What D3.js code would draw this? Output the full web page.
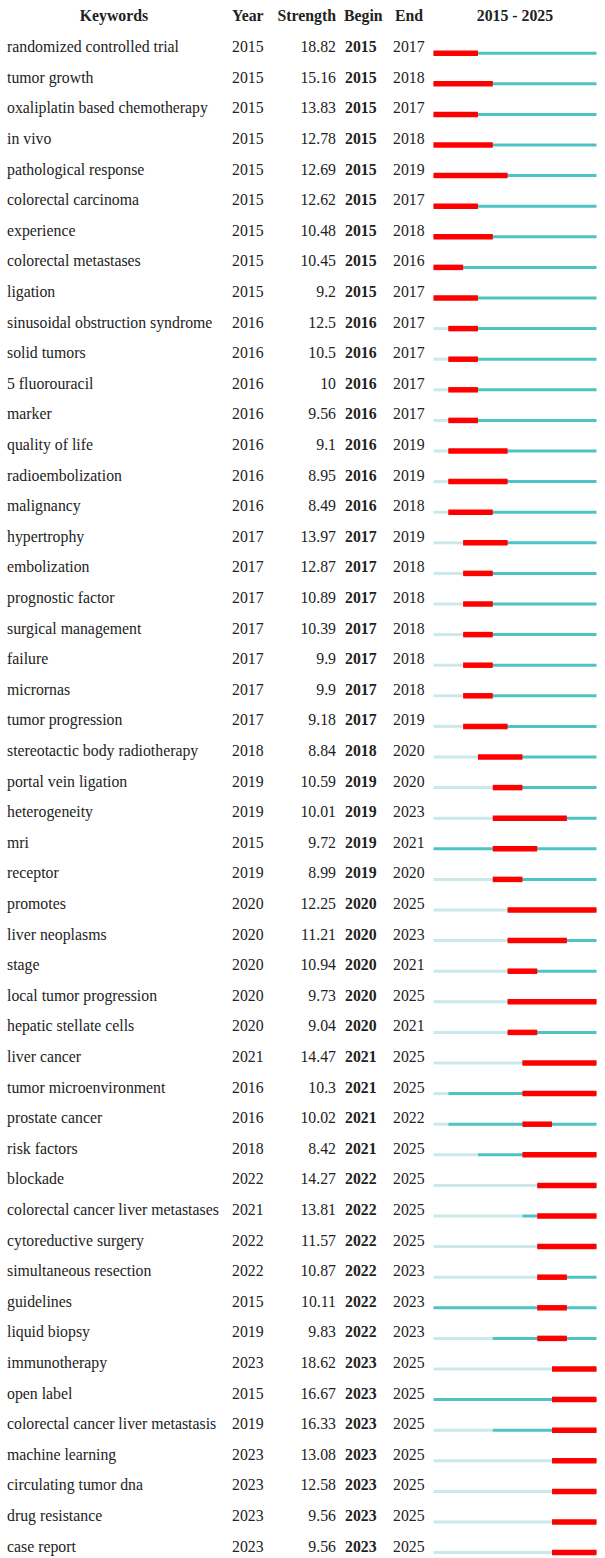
<!DOCTYPE html>
<html>
<head>
<meta charset="utf-8">
<script src="https://cdn.jsdelivr.net/npm/d3@7"></script>
<style>
  body { margin: 0; background: #fff; }
  svg text { font-family: "Times New Roman", "Liberation Serif", serif; fill: #222; }
</style>
</head>
<body>
<div id="chart"></div>
<script>
// ---- data -----------------------------------------------------------------
const keywords = [
  'randomized controlled trial', 'tumor growth', 'oxaliplatin based chemotherapy', 'in vivo',
  'pathological response', 'colorectal carcinoma', 'experience', 'colorectal metastases', 'ligation',
  'sinusoidal obstruction syndrome', 'solid tumors', '5 fluorouracil', 'marker', 'quality of life',
  'radioembolization', 'malignancy', 'hypertrophy', 'embolization', 'prognostic factor',
  'surgical management', 'failure', 'micrornas', 'tumor progression', 'stereotactic body radiotherapy',
  'portal vein ligation', 'heterogeneity', 'mri', 'receptor', 'promotes', 'liver neoplasms', 'stage',
  'local tumor progression', 'hepatic stellate cells', 'liver cancer', 'tumor microenvironment',
  'prostate cancer', 'risk factors', 'blockade', 'colorectal cancer liver metastases',
  'cytoreductive surgery', 'simultaneous resection', 'guidelines', 'liquid biopsy', 'immunotherapy',
  'open label', 'colorectal cancer liver metastasis', 'machine learning', 'circulating tumor dna',
  'drug resistance', 'case report'
];
const firstYear = [
  2015, 2015, 2015, 2015, 2015, 2015, 2015, 2015, 2015,
  2016, 2016, 2016, 2016, 2016, 2016, 2016,
  2017, 2017, 2017, 2017, 2017, 2017, 2017,
  2018, 2019, 2019, 2015, 2019,
  2020, 2020, 2020, 2020, 2020,
  2021, 2016, 2016, 2018,
  2022, 2021, 2022, 2022, 2015, 2019,
  2023, 2015, 2019, 2023, 2023, 2023, 2023
];
const strength = [
  '18.82', '15.16', '13.83', '12.78', '12.69', '12.62', '10.48', '10.45', '9.2',
  '12.5', '10.5', '10', '9.56', '9.1', '8.95', '8.49',
  '13.97', '12.87', '10.89', '10.39', '9.9', '9.9', '9.18',
  '8.84', '10.59', '10.01', '9.72', '8.99',
  '12.25', '11.21', '10.94', '9.73', '9.04',
  '14.47', '10.3', '10.02', '8.42',
  '14.27', '13.81', '11.57', '10.87', '10.11', '9.83',
  '18.62', '16.67', '16.33', '13.08', '12.58', '9.56', '9.56'
];
const begin = [
  2015, 2015, 2015, 2015, 2015, 2015, 2015, 2015, 2015,
  2016, 2016, 2016, 2016, 2016, 2016, 2016,
  2017, 2017, 2017, 2017, 2017, 2017, 2017,
  2018, 2019, 2019, 2019, 2019,
  2020, 2020, 2020, 2020, 2020,
  2021, 2021, 2021, 2021,
  2022, 2022, 2022, 2022, 2022, 2022,
  2023, 2023, 2023, 2023, 2023, 2023, 2023
];
const end = [
  2017, 2018, 2017, 2018, 2019, 2017, 2018, 2016, 2017,
  2017, 2017, 2017, 2017, 2019, 2019, 2018,
  2019, 2018, 2018, 2018, 2018, 2018, 2019,
  2020, 2020, 2023, 2021, 2020,
  2025, 2023, 2021, 2025, 2021,
  2025, 2025, 2022, 2025,
  2025, 2025, 2025, 2023, 2023, 2023,
  2025, 2025, 2025, 2025, 2025, 2025, 2025
];
const yearStart = 2015, yearEnd = 2025;
const headers = ['Keywords', 'Year', 'Strength', 'Begin', 'End', `${yearStart} - ${yearEnd}`];

const rows = keywords.map((k, i) => ({
  keyword: k, year: firstYear[i], strength: strength[i], begin: begin[i], end: end[i]
}));

// ---- layout ---------------------------------------------------------------
const W = 605, H = 1558;
const fontSize = 15.8;

const svg = d3.select('#chart').append('svg')
  .attr('width', W).attr('height', H);

const y = d3.scaleBand()
  .domain(d3.range(rows.length))
  .range([31.9, 31.9 + 30.6 * rows.length]);

// timeline scale: each year is one slot, end year is inclusive
const x = d3.scaleLinear()
  .domain([yearStart, yearEnd + 1])
  .range([433.5, 596.5]);

const col = { keyword: 7, year: 232, strengthRight: 336, begin: 345, end: 393 };

// Header
const hdr = svg.append('g').attr('font-weight', 'bold').attr('font-size', fontSize + 'px');
hdr.append('text').attr('x', 114).attr('y', 21).attr('text-anchor', 'middle').text(headers[0]);
hdr.append('text').attr('x', col.year).attr('y', 21).text(headers[1]);
hdr.append('text').attr('x', col.strengthRight).attr('y', 21).attr('text-anchor', 'end').text(headers[2]);
hdr.append('text').attr('x', col.begin - 1).attr('y', 21).text(headers[3]);
hdr.append('text').attr('x', col.end + 2).attr('y', 21).text(headers[4]);
hdr.append('text').attr('x', (x.range()[0] + x.range()[1]) / 2).attr('y', 21)
  .attr('text-anchor', 'middle').text(headers[5]);

// Rows
const row = svg.selectAll('.row')
  .data(rows)
  .join('g')
  .attr('class', 'row')
  .attr('transform', (d, i) => `translate(0,${y(i) + y.bandwidth() / 2})`)
  .attr('font-size', fontSize + 'px');

row.append('text').attr('x', col.keyword).attr('y', 5).text(d => d.keyword);
row.append('text').attr('x', col.year).attr('y', 5).text(d => d.year);
row.append('text').attr('x', col.strengthRight).attr('y', 5).attr('text-anchor', 'end').text(d => d.strength);
row.append('text').attr('x', col.begin).attr('y', 5).attr('font-weight', 'bold').text(d => d.begin);
row.append('text').attr('x', col.end).attr('y', 5).text(d => d.end);

// Timeline: light before first appearance, teal after, red during burst
const barY = 6;
row.append('line')
  .attr('x1', x(yearStart)).attr('x2', d => x(d.year))
  .attr('y1', barY).attr('y2', barY)
  .attr('stroke', '#cce9e9').attr('stroke-width', 3);

row.append('line')
  .attr('x1', d => x(d.year)).attr('x2', x(yearEnd + 1))
  .attr('y1', barY).attr('y2', barY)
  .attr('stroke', '#4fc3c4').attr('stroke-width', 3);

row.append('line')
  .attr('x1', d => x(d.begin)).attr('x2', d => x(d.end + 1))
  .attr('y1', barY).attr('y2', barY)
  .attr('stroke', '#ff0000').attr('stroke-width', 5.5);
</script>
</body>
</html>
